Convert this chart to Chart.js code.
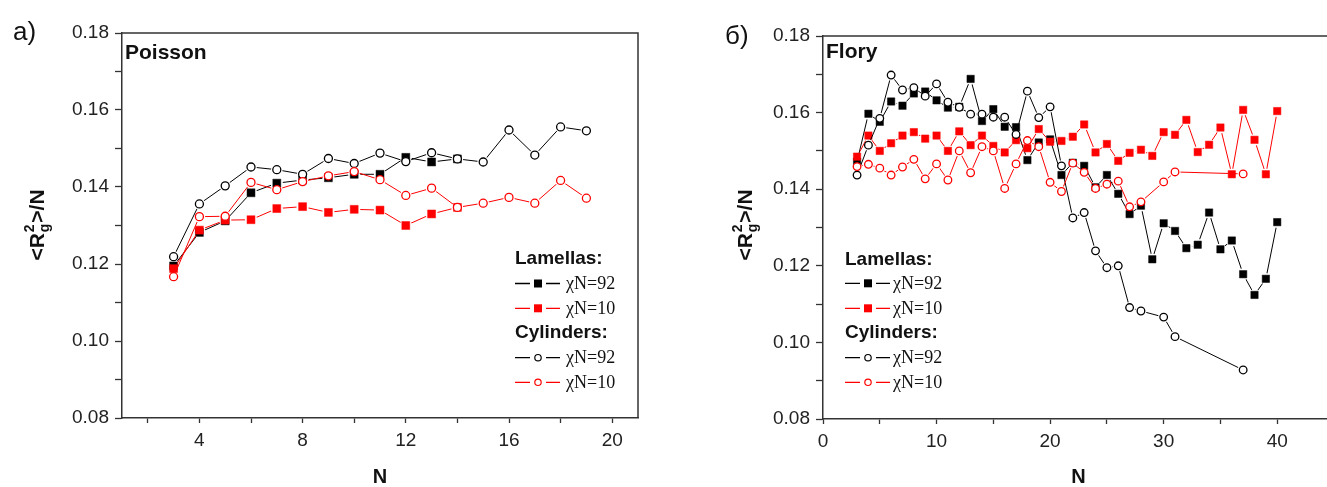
<!DOCTYPE html>
<html><head><meta charset="utf-8">
<script src="https://cdn.jsdelivr.net/npm/chart.js@4.4.1/dist/chart.umd.min.js"></script>
<style>
html,body{margin:0;padding:0;background:#fff;width:1327px;height:487px;overflow:hidden;position:relative;}
#cl{position:absolute;left:0;top:0;}
#cr{position:absolute;left:680px;top:0;}
</style></head><body>
<canvas id="cl" width="665" height="487"></canvas>
<canvas id="cr" width="680" height="487"></canvas>
<script>
// ---------- data ----------
const yTickValues = [0.08,0.09,0.10,0.11,0.12,0.13,0.14,0.15,0.16,0.17,0.18];
const yTickLabels = ['0.08','0.10','0.12','0.14','0.16','0.18'];
const poissonXTicks = [2,4,6,8,10,12,14,16,18,20];
const poissonXLabels = ['4','8','12','16','20'];
const floryXTicks = [0,5,10,15,20,25,30,35,40,45];
const floryXLabels = ['0','10','20','30','40'];
const legendHeaders = ['Lamellas:','Cylinders:'];
const seriesNames = ['\u03C7N=92','\u03C7N=10','\u03C7N=92','\u03C7N=10'];
const panelLabels = ['a)','\u0431)'];
const panelTitles = ['Poisson','Flory'];
const axisTitleX = 'N';

// Poisson panel
const poissonNLam = [3,4,5,6,7,8,9,10,11,12,13,14];
const poissonLam92 = [0.1195,0.1282,0.1312,0.1385,0.1410,0.1418,0.1424,0.1433,0.1433,0.1477,0.1465,0.1473];
const poissonLam10 = [0.1188,0.1288,0.1314,0.1315,0.1344,0.1349,0.1334,0.1342,0.1340,0.1300,0.1330,0.1347];
const poissonNCyl = [3,4,5,6,7,8,9,10,11,12,13,14,15,16,17,18,19];
const poissonCyl92 = [0.1219,0.1356,0.1403,0.1452,0.1445,0.1433,0.1474,0.1461,0.1488,0.1466,0.1489,0.1473,0.1465,0.1548,0.1483,0.1556,0.1546];
const poissonCyl10 = [0.1167,0.1323,0.1324,0.1412,0.1393,0.1414,0.1429,0.1440,0.1419,0.1378,0.1397,0.1347,0.1358,0.1373,0.1358,0.1417,0.1371];

// Flory panel
const floryNLam = [3,4,5,6,7,8,9,10,11,12,13,14,15,16,17,18,19,20,21,22,23,24,25,26,27,28,29,30,31,32,33,34,35,36,37,38,39,40];
const floryLam92 = [0.1472,0.1597,0.1576,0.1629,0.1618,0.1650,0.1655,0.1632,0.1613,0.1615,0.1688,0.1578,0.1609,0.1563,0.1562,0.1476,0.1522,0.1530,0.1437,0.1469,0.1461,0.1405,0.1437,0.1388,0.1335,0.1357,0.1217,0.1311,0.1291,0.1246,0.1255,0.1339,0.1243,0.1266,0.1178,0.1124,0.1166,0.1314];
const floryLam10 = [0.1485,0.1540,0.1500,0.1520,0.1540,0.1549,0.1532,0.1540,0.1500,0.1551,0.1515,0.1540,0.1513,0.1496,0.1528,0.1507,0.1557,0.1524,0.1526,0.1537,0.1569,0.1496,0.1518,0.1474,0.1495,0.1503,0.1487,0.1549,0.1542,0.1581,0.1497,0.1516,0.1561,0.1439,0.1607,0.1529,0.1439,0.1604];
const floryNCyl = [3,4,5,6,7,8,9,10,11,12,13,14,15,16,17,18,19,20,21,22,23,24,25,26,27,28,30,31,37];
const floryCyl92 = [0.1437,0.1515,0.1585,0.1698,0.1659,0.1665,0.1643,0.1675,0.1627,0.1614,0.1596,0.1596,0.1588,0.1588,0.1543,0.1656,0.1587,0.1615,0.1461,0.1325,0.1339,0.1239,0.1195,0.1200,0.1091,0.1082,0.1066,0.1015,0.0928];
const floryCyl10 = [0.1459,0.1465,0.1455,0.1437,0.1458,0.1478,0.1427,0.1466,0.1424,0.1500,0.1443,0.1511,0.1500,0.1402,0.1466,0.1527,0.1511,0.1418,0.1394,0.1468,0.1444,0.1402,0.1413,0.1421,0.1354,0.1367,0.1419,0.1445,0.1440];

// ---------- helpers ----------
const SANS = '"Liberation Sans", Arial, sans-serif';
const SERIF = '"Liberation Serif", "Times New Roman", serif';
const AX = '#333';

function ds(label, xs, ys, color, style, r, order) {
  const filled = style === 'rect';
  return {
    label, order,
    data: xs.map((x, i) => ({x, y: ys[i]})),
    borderColor: color, backgroundColor: filled ? color : '#fff',
    borderWidth: 1, tension: 0, fill: false,
    pointStyle: style, pointRadius: r, pointHoverRadius: r,
    pointBorderColor: color, pointBackgroundColor: filled ? color : '#fff',
    pointBorderWidth: filled ? 0.5 : 1.3
  };
}

// Origin-style gaps between connecting lines and markers
const gapPlugin = {
  id: 'gaps',
  beforeDatasetDraw(chart, args) {
    const ctx = chart.ctx, a = chart.chartArea, meta = args.meta;
    const ds = chart.data.datasets[args.index];
    const r = ds.pointStyle === 'rect' ? ds.pointRadius * Math.SQRT1_2 + 2.2 : ds.pointRadius + 1.8;
    ctx.save();
    ctx.beginPath();
    ctx.rect(a.left - 10, a.top - 10, a.right - a.left + 20, a.bottom - a.top + 20);
    meta.data.forEach(p => { ctx.moveTo(p.x + r, p.y); ctx.arc(p.x, p.y, r, 0, 2 * Math.PI); });
    ctx.clip('evenodd');
  },
  afterDatasetDraw(chart, args) {
    const ctx = chart.ctx;
    ctx.restore();
    args.meta.data.forEach(p => p.draw(ctx, chart.chartArea));
  }
};

function drawYTitle(ctx, cx, cy) {
  ctx.save();
  ctx.translate(cx, cy);
  ctx.rotate(-Math.PI / 2);
  ctx.fillStyle = '#111';
  ctx.textBaseline = 'alphabetic';
  ctx.textAlign = 'left';
  const big = 'bold 21px ' + SANS, small = 'bold 14px ' + SANS;
  ctx.font = big;
  const w1 = ctx.measureText('<R').width, w3 = ctx.measureText('>/N').width;
  ctx.font = small;
  const w2 = Math.max(ctx.measureText('2').width, ctx.measureText('g').width) + 2;
  let x = -(w1 + w2 + w3) / 2;
  const base = 7.5;
  ctx.font = big; ctx.fillText('<R', x, base); x += w1;
  ctx.font = small; ctx.fillText('2', x + 1, base - 10); ctx.fillText('g', x + 1, base + 5); x += w2;
  ctx.font = big; ctx.fillText('>/N', x, base);
  ctx.restore();
}

function decor(cfg) {
  return {
    id: 'decor' + cfg.idx,
    afterDraw(chart) {
      const ctx = chart.ctx, a = chart.chartArea;
      ctx.save();
      ctx.strokeStyle = AX; ctx.lineWidth = 1.5;
      ctx.beginPath();
      ctx.moveTo(a.left, a.top); ctx.lineTo(a.right, a.top); ctx.lineTo(a.right, a.bottom);
      ctx.stroke();
      ctx.fillStyle = '#111'; ctx.textBaseline = 'middle'; ctx.textAlign = 'left';
      ctx.font = '26px ' + SANS;
      ctx.fillText(panelLabels[cfg.idx], cfg.labelX, cfg.labelY);
      ctx.font = 'bold 21px ' + SANS;
      ctx.fillText(panelTitles[cfg.idx], a.left + 3, cfg.titleY);
      ctx.restore();
      drawYTitle(ctx, cfg.yTitleX, 225);
      const L = cfg.legend;
      ctx.save();
      ctx.textBaseline = 'middle'; ctx.textAlign = 'left'; ctx.fillStyle = '#111';
      ctx.font = 'bold 19px ' + SANS;
      ctx.fillText(legendHeaders[0], L.x, L.rows[0]);
      ctx.fillText(legendHeaders[1], L.x, L.rows[3]);
      const entryRows = [L.rows[1], L.rows[2], L.rows[4], L.rows[5]];
      chart.data.datasets.forEach((d, i) => {
        const y = entryRows[i];
        ctx.strokeStyle = d.borderColor; ctx.lineWidth = 1.3;
        ctx.beginPath();
        ctx.moveTo(L.x, y); ctx.lineTo(L.x + 15, y);
        ctx.moveTo(L.x + 31, y); ctx.lineTo(L.x + 45, y);
        ctx.stroke();
        const mx = L.x + 23;
        if (d.pointStyle === 'rect') {
          ctx.fillStyle = d.borderColor; ctx.fillRect(mx - 4, y - 4, 8, 8);
        } else {
          ctx.beginPath(); ctx.arc(mx, y, 3.2, 0, 2 * Math.PI);
          ctx.fillStyle = '#fff'; ctx.fill(); ctx.lineWidth = 1.2; ctx.stroke();
        }
        ctx.fillStyle = '#111';
        ctx.font = '18px ' + SERIF;
        ctx.fillText(d.label, L.textX, y + 1);
      });
      ctx.restore();
    }
  };
}

function makeChart(canvas, cfg) {
  return new Chart(canvas, {
    type: 'line',
    data: { datasets: cfg.datasets },
    options: {
      responsive: false, animation: false, events: [],
      layout: { padding: { left: 0, top: cfg.padTop, right: cfg.padRight, bottom: 0 } },
      plugins: { legend: { display: false }, tooltip: { enabled: false } },
      scales: {
        x: {
          type: 'linear', position: 'bottom', min: cfg.xMin, max: cfg.xMax,
          afterBuildTicks: (s) => { s.ticks = cfg.xTicks.map(v => ({value: v})); },
          afterFit: (s) => { s.height = cfg.xAxisHeight; },
          ticks: {
            autoSkip: false, maxRotation: 0, padding: 8,
            font: { family: SANS, size: 19, lineHeight: 1 }, color: '#222',
            callback: (v) => cfg.xLabels.includes(String(v)) ? String(v) : ''
          },
          grid: { drawOnChartArea: false, drawTicks: true, tickLength: 5, tickColor: AX, tickWidth: 1.3 },
          border: { display: true, color: AX, width: 1.5 },
          title: { display: true, text: axisTitleX, color: '#111',
                   font: { family: SANS, size: 20, weight: 'bold', lineHeight: 1 },
                   padding: { top: 0, bottom: 0 } }
        },
        y: {
          type: 'linear', position: 'left', min: 0.08, max: 0.18,
          afterBuildTicks: (s) => { s.ticks = yTickValues.map(v => ({value: v})); },
          afterFit: (s) => { s.width = cfg.yAxisWidth; },
          ticks: {
            autoSkip: false, padding: 6,
            font: { family: SANS, size: 19, lineHeight: 1 }, color: '#222',
            callback: (v) => { const t = Number(v).toFixed(2); return yTickLabels.includes(t) ? t : ''; }
          },
          grid: { drawOnChartArea: false, drawTicks: true, tickLength: 7, tickColor: AX, tickWidth: 1.3 },
          border: { display: true, color: AX, width: 1.5 }
        }
      }
    },
    plugins: [gapPlugin, decor(cfg)]
  });
}

makeChart(document.getElementById('cl'), {
  idx: 0, xMin: 1, xMax: 21, xTicks: poissonXTicks, xLabels: poissonXLabels,
  padTop: 33, padRight: 27, yAxisWidth: 122, xAxisHeight: 69,
  labelX: 13, labelY: 33, titleY: 53, yTitleX: 36,
  legend: { x: 515, textX: 566, rows: [259, 283.5, 308.3, 332.7, 357.7, 382.3] },
  datasets: [
    ds(seriesNames[0], poissonNLam, poissonLam92, '#000', 'rect', 5.6, 4),
    ds(seriesNames[1], poissonNLam, poissonLam10, '#ff0000', 'rect', 5.6, 3),
    ds(seriesNames[2], poissonNCyl, poissonCyl92, '#000', 'circle', 4, 2),
    ds(seriesNames[3], poissonNCyl, poissonCyl10, '#ff0000', 'circle', 4, 1)
  ]
});

makeChart(document.getElementById('cr'), {
  idx: 1, xMin: 0, xMax: 45, xTicks: floryXTicks, xLabels: floryXLabels,
  padTop: 36, padRight: 26, yAxisWidth: 143, xAxisHeight: 68,
  labelX: 45, labelY: 37, titleY: 52, yTitleX: 64,
  legend: { x: 165, textX: 213, rows: [259.3, 283.3, 308.3, 332.7, 357.7, 382.3] },
  datasets: [
    ds(seriesNames[0], floryNLam, floryLam92, '#000', 'rect', 5.2, 4),
    ds(seriesNames[1], floryNLam, floryLam10, '#ff0000', 'rect', 5.2, 3),
    ds(seriesNames[2], floryNCyl, floryCyl92, '#000', 'circle', 3.8, 2),
    ds(seriesNames[3], floryNCyl, floryCyl10, '#ff0000', 'circle', 3.8, 1)
  ]
});
</script>
</body></html>
